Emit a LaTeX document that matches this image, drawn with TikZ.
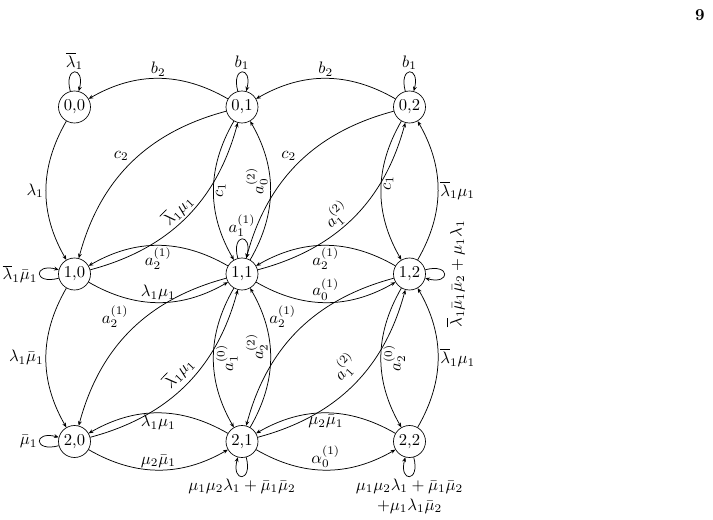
\documentclass[tikz,border=0pt]{standalone}
\usetikzlibrary{arrows.meta}
\begin{document}
\begin{tikzpicture}[x=0.6bp,y=0.6bp,
  st/.style={circle,draw,minimum size=19.2bp,inner sep=0pt},
  tr/.style={-{Stealth[length=2.8pt,width=2.3pt]}, line width=0.45pt},
  lab/.style={inner sep=1.2pt},
  vl/.style={lab,rotate=90,anchor=north},
  vr/.style={lab,rotate=90,anchor=south},
]
\useasboundingbox (0,0) rectangle (713,520);
% states
\node[st] (n00) at (74.5,413) {0,0};
\node[st] (n01) at (242,413) {0,1};
\node[st] (n02) at (409.5,413) {0,2};
\node[st] (n10) at (74.5,246) {1,0};
\node[st] (n11) at (242,246) {1,1};
\node[st] (n12) at (409.5,246) {1,2};
\node[st] (n20) at (74.5,78.5) {2,0};
\node[st] (n21) at (242,78.5) {2,1};
\node[st] (n22) at (409.5,78.5) {2,2};
\node (pg) at (700,505) {\textbf{9}};

% loops
\draw[tr] (n00) to[loop above] node[lab,above] {$\overline{\lambda}_1$} (n00);
\draw[tr] (n01) to[loop above] node[lab,above] {$b_1$} (n01);
\draw[tr] (n02) to[loop above] node[lab,above] {$b_1$} (n02);
\draw[tr] (n10) to[loop left] node[lab,left] {$\overline{\lambda}_1\bar{\mu}_1$} (n10);
\draw[tr] (n11) to[loop above] node[lab,above] {$a_1^{(1)}$} (n11);
\draw[tr] (n12) to[loop right] node[lab,rotate=90,anchor=north] {$\overline{\lambda}_1\bar{\mu}_1\bar{\mu}_2+\mu_1\lambda_1$} (n12);
\draw[tr] (n20) to[loop left] node[lab,left] {$\bar{\mu}_1$} (n20);
\draw[tr] (n21) to[loop below] node[lab,below] {$\mu_1\mu_2\lambda_1+\bar{\mu}_1\bar{\mu}_2$} (n21);
\draw[tr] (n22) to[loop below] node[lab,below,align=center] {$\mu_1\mu_2\lambda_1+\bar{\mu}_1\bar{\mu}_2$\\$+\mu_1\lambda_1\bar{\mu}_2$} (n22);

% horizontal
\draw[tr] (n01) to[bend right=30] node[lab,above] {$b_2$} (n00);
\draw[tr] (n02) to[bend right=30] node[lab,above] {$b_2$} (n01);
\draw[tr] (n11) to[bend right=30] node[lab,below] {$a_2^{(1)}$} (n10);
\draw[tr] (n10) to[bend right=30] node[lab,above] {$\lambda_1\mu_1$} (n11);
\draw[tr] (n12) to[bend right=30] node[lab,below] {$a_2^{(1)}$} (n11);
\draw[tr] (n11) to[bend right=30] node[lab,above] {$a_0^{(1)}$} (n12);
\draw[tr] (n21) to[bend right=30] node[lab,below] {$\lambda_1\mu_1$} (n20);
\draw[tr] (n20) to[bend right=30] node[lab,above] {$\mu_2\bar{\mu}_1$} (n21);
\draw[tr] (n22) to[bend right=30] node[lab,below] {$\mu_2\bar{\mu}_1$} (n21);
\draw[tr] (n21) to[bend right=30] node[lab,above] {$\alpha_0^{(1)}$} (n22);

% vertical
\draw[tr] (n00) to[bend right=30] node[lab,left] {$\lambda_1$} (n10);
\draw[tr] (n10) to[bend right=30] node[lab,left] {$\lambda_1\bar{\mu}_1$} (n20);
\draw[tr] (n01) to[bend right=30] node[vl] {$c_1$} (n11);
\draw[tr] (n11) to[bend right=30] node[vr,pos=0.57] {$a_0^{(2)}$} (n01);
\draw[tr] (n11) to[bend right=30] node[vl] {$a_1^{(0)}$} (n21);
\draw[tr] (n21) to[bend right=30] node[vr,pos=0.58] {$a_2^{(2)}$} (n11);
\draw[tr] (n02) to[bend right=30] node[vl,pos=0.45] {$c_1$} (n12);
\draw[tr] (n12) to[bend right=30] node[lab,right] {$\overline{\lambda}_1\mu_1$} (n02);
\draw[tr] (n12) to[bend right=30] node[vl] {$a_2^{(0)}$} (n22);
\draw[tr] (n22) to[bend right=30] node[lab,right] {$\overline{\lambda}_1\mu_1$} (n12);

% diagonals
\draw[tr] (n01) to[bend right=30] node[lab,anchor=south east] {$c_2$} (n10);
\draw[tr] (n10) to[bend right=30] node[lab,sloped,above] {$\overline{\lambda}_1\mu_1$} (n01);
\draw[tr] (n02) to[bend right=30] node[lab,anchor=south east] {$c_2$} (n11);
\draw[tr] (n11) to[bend right=30] node[lab,sloped,above,pos=0.45] {$a_1^{(2)}$} (n02);
\draw[tr] (n11) to[bend right=30] node[lab,anchor=south east] {$a_2^{(1)}$} (n20);
\draw[tr] (n20) to[bend right=30] node[lab,sloped,above=1.5bp,pos=0.52] {$\overline{\lambda}_1\mu_1$} (n11);
\draw[tr] (n12) to[bend right=30] node[lab,anchor=south east] {$a_2^{(1)}$} (n21);
\draw[tr] (n21) to[bend right=30] node[lab,sloped,above=3bp,pos=0.54] {$a_1^{(2)}$} (n12);
\end{tikzpicture}
\end{document}
